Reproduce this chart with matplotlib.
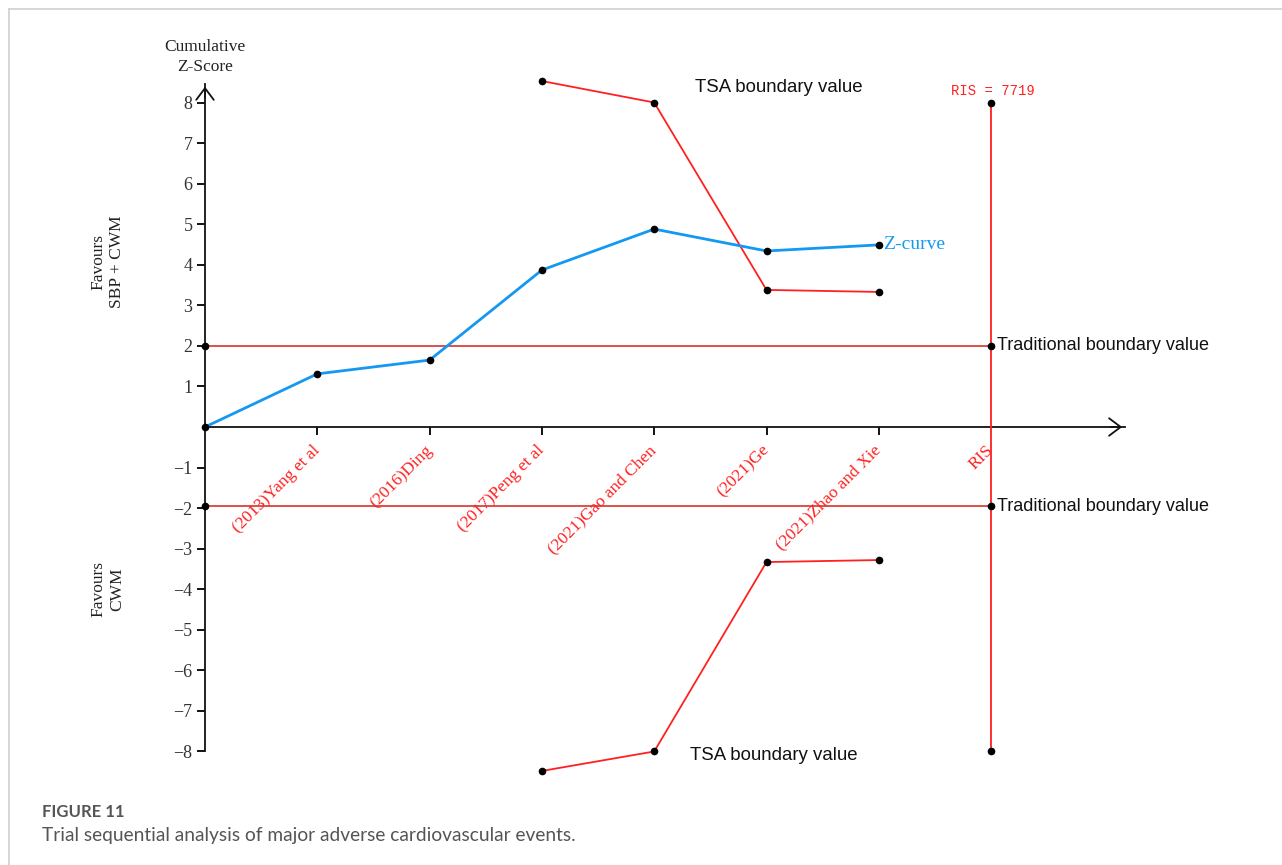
import numpy as np
import matplotlib.pyplot as plt
from matplotlib.lines import Line2D

# Studies along the cumulative information axis
studies = ["(2013)Yang et al", "(2016)Ding", "(2017)Peng et al",
           "(2021)Gao and Chen", "(2021)Ge", "(2021)Zhao and Xie", "RIS"]
z_curve = [0.0, 1.31, 1.65, 3.87, 4.88, 4.34, 4.49]
tsa_pos_idx = [3, 4, 5, 6]
tsa_upper = [8.53, 8.0, 3.38, 3.33]
tsa_lower = [-8.48, -8.0, -3.33, -3.28]
trad_upper = 2.0
trad_lower = -1.96
ris_idx = 7
ris_value = 7719
ris_span = [-8.0, 8.0]
y_ticks = [-8, -7, -6, -5, -4, -3, -2, -1, 1, 2, 3, 4, 5, 6, 7, 8]

SERIF = "Liberation Serif"
SANS = "Liberation Sans"
RED = "#ff2020"
DARKRED = "#d8322c"
BLUE = "#1598f2"

W, H = 1282, 865
fig = plt.figure(figsize=(W / 100, H / 100), dpi=100)

# light frame around the panel
fig.add_artist(Line2D([9 / W, 1], [1 - 9 / H, 1 - 9 / H], color="#d0d0d0", lw=1.2))
fig.add_artist(Line2D([9 / W, 9 / W], [0, 1 - 9 / H], color="#d0d0d0", lw=1.2))

# axes cover the whole figure; origin/unit in pixels
x0, dx = 205, 112.3
y0, dy = 427, 40.56
ax = fig.add_axes([0, 0, 1, 1])
ax.set_xlim(-x0 / dx, (W - x0) / dx)
ax.set_ylim((y0 - H) / dy, y0 / dy)
ax.patch.set_alpha(0)

for s in ["top", "right"]:
    ax.spines[s].set_visible(False)
ax.spines["left"].set_position(("data", 0))
ax.spines["bottom"].set_position(("data", 0))
x_end = (1125 - x0) / dx
y_end = 8.46
ax.spines["left"].set_bounds(-8, y_end)
ax.spines["bottom"].set_bounds(0, x_end)
for s in ["left", "bottom"]:
    ax.spines[s].set_linewidth(1.3)
    ax.spines[s].set_color("#111111")

# open arrow heads on both axes
head = "->, head_width=0.45, head_length=0.6"
ax.annotate("", xy=(0, y_end), xytext=(0, y_end - 0.4),
            arrowprops=dict(arrowstyle=head, lw=1.3, color="#111111", mutation_scale=14))
ax.annotate("", xy=(x_end, 0), xytext=(x_end - 0.15, 0),
            arrowprops=dict(arrowstyle=head, lw=1.3, color="#111111", mutation_scale=14))

ax.set_yticks(y_ticks)
ax.set_yticklabels([f"{t}".replace("-", "\u2212") for t in y_ticks],
                   fontfamily=SERIF, fontsize=13, color="#333333")
ax.tick_params(axis="y", direction="out", length=6, width=1.3, pad=3)

ax.set_xticks(range(1, len(studies) + 1))
ax.set_xticklabels(studies, rotation=45, ha="right", va="center", rotation_mode="anchor",
                   fontfamily=SERIF, fontsize=12.5, color=RED)
ax.tick_params(axis="x", direction="out", length=6, width=1.3, pad=9)
ax.xaxis.get_major_ticks()[-1].tick1line.set_visible(False)

# traditional boundaries
ax.plot([0, ris_idx], [trad_upper, trad_upper], color=DARKRED, lw=1.2, zorder=2)
ax.plot([0, ris_idx], [trad_lower, trad_lower], color=DARKRED, lw=1.2, zorder=2)
ax.plot([0, 0, ris_idx, ris_idx], [trad_upper, trad_lower, trad_upper, trad_lower],
        "o", color="black", ms=4.5, zorder=5)

# required information size
ax.plot([ris_idx, ris_idx], ris_span, color=RED, lw=1.3, marker="o", ms=4.5,
        mfc="black", mec="black", zorder=3)

# TSA monitoring boundaries
ax.plot(tsa_pos_idx, tsa_upper, color=RED, lw=1.3, marker="o", ms=4.5,
        mfc="black", mec="black", zorder=3)
ax.plot(tsa_pos_idx, tsa_lower, color=RED, lw=1.3, marker="o", ms=4.5,
        mfc="black", mec="black", zorder=3)

# cumulative Z-curve
ax.plot(range(len(z_curve)), z_curve, color=BLUE, lw=2, marker="o", ms=4.5,
        mfc="black", mec="black", zorder=4)

ax.text(0, 9.12, "Cumulative\nZ-Score", ha="center", va="center",
        fontfamily=SERIF, fontsize=12.5, linespacing=1.35, color="#222222")
ax.text(-0.864, 4.07, "Favours\nSBP + CWM", ha="center", va="center", rotation=90,
        fontfamily=SERIF, fontsize=12.5, linespacing=1.2, color="#222222")
ax.text(-0.864, -4.0, "Favours\nCWM", ha="center", va="center", rotation=90,
        fontfamily=SERIF, fontsize=12.5, linespacing=1.2, color="#222222")
ax.text(4.36, 8.36, "TSA boundary value", ha="left", va="center",
        fontfamily=SANS, fontsize=13.4, color="#111111")
ax.text(4.32, -8.09, "TSA boundary value", ha="left", va="center",
        fontfamily=SANS, fontsize=13.4, color="#111111")
ax.text(6.04, z_curve[-1], "Z-curve", ha="left", va="center",
        fontfamily=SERIF, fontsize=14, color=BLUE)
ax.text(ris_idx + 0.05, trad_upper, "Traditional boundary value", ha="left", va="center",
        fontfamily=SANS, fontsize=13, color="#111111")
ax.text(ris_idx + 0.05, trad_lower, "Traditional boundary value", ha="left", va="center",
        fontfamily=SANS, fontsize=13, color="#111111")
ax.text(ris_idx + 0.02, 8.28, f"RIS = {ris_value}", ha="center", va="center",
        fontfamily="Liberation Mono", fontsize=10, color=RED)

fig.text(42 / W, 1 - 812 / H, "FIGURE 11", ha="left", va="center",
         fontfamily="Lato", fontweight="bold", fontsize=12, color="#555555")
fig.text(42 / W, 1 - 835 / H, "Trial sequential analysis of major adverse cardiovascular events.",
         ha="left", va="center", fontfamily="Lato", fontsize=13.8, color="#555555")

fig.savefig("out.png", dpi=100)
